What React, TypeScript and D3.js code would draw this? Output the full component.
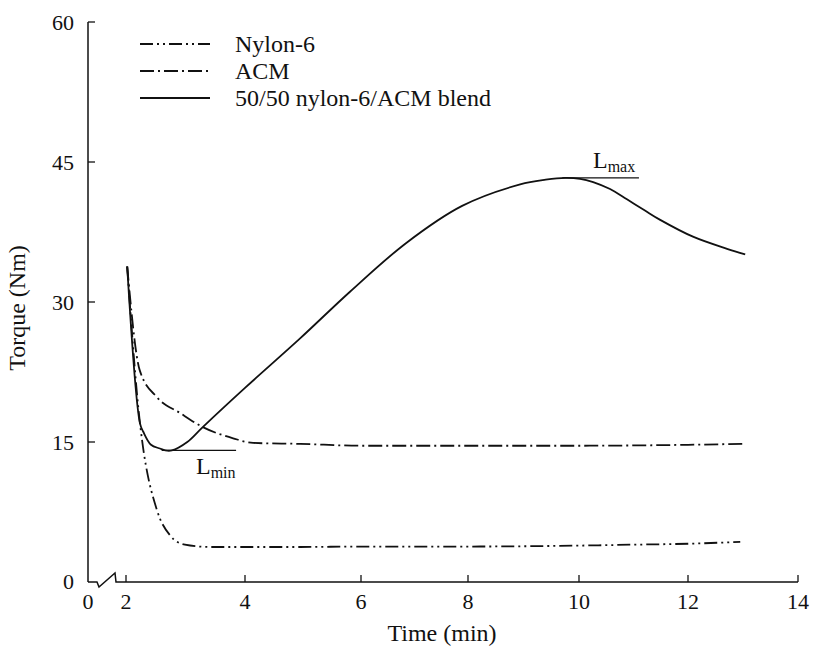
import React from "react";
import * as d3 from "d3";

// ---- data (time in min, torque in Nm) ----
const xTickValues = [2, 4, 6, 8, 10, 12, 14];
const xTickLabels = ["2", "4", "6", "8", "10", "12", "14"];
const yTickValues = [15, 30, 45, 60];
const yTickLabels = ["15", "30", "45", "60"];

const blendTime = [2.02, 2.235, 2.29, 2.42, 2.57, 2.66, 2.77, 3.03, 3.29, 4.0, 4.95, 5.81, 6.84, 7.89, 8.94, 9.4, 9.75, 10.02, 10.26, 10.57, 10.88, 11.21, 11.49, 12.09, 12.71, 13.04];
const blendTorque = [33.8, 17.0, 16.1, 14.7, 14.3, 14.1, 14.1, 15.0, 16.6, 20.8, 26.1, 31.1, 36.3, 40.3, 42.6, 43.1, 43.3, 43.2, 42.85, 42.1, 41.0, 39.8, 38.8, 37.0, 35.7, 35.1];

const acmTime = [2.02, 2.23, 2.52, 2.91, 3.29, 3.8, 4.14, 4.95, 6, 8, 10, 12, 13.02];
const acmTorque = [33.8, 22.7, 19.8, 18.1, 16.6, 15.4, 14.9, 14.8, 14.6, 14.6, 14.6, 14.7, 14.8];

const nylonTime = [2.02, 2.235, 2.27, 2.52, 2.74, 2.99, 3.41, 4.95, 6, 8, 10, 11, 12, 12.95];
const nylonTorque = [33.8, 17.0, 15.2, 7.7, 5.0, 4.0, 3.75, 3.75, 3.8, 3.8, 3.9, 4.0, 4.1, 4.3];

const seriesNames = ["Nylon-6", "ACM", "50/50 nylon-6/ACM blend"];
const lMin = { t0: 2.6, t1: 3.85, v: 14.1 };
const lMax = { t0: 9.7, t1: 11.1, v: 43.3 };

const FONT = "'Liberation Serif', 'Times New Roman', serif";

export default function App() {
  const W = 814, H = 655;
  const x = d3.scaleLinear()
    .domain([0, 2, 4, 6, 8, 10, 12, 14])
    .range([88, 126, 245, 361, 468, 579, 688, 798]);
  const y = d3.scaleLinear().domain([0, 60]).range([582, 22]);

  const lineMono = d3.line<[number, number]>()
    .x(d => x(d[0]))
    .y(d => y(d[1]))
    .curve(d3.curveMonotoneX);
  const lineSmooth = d3.line<[number, number]>()
    .x(d => x(d[0]))
    .y(d => y(d[1]))
    .curve(d3.curveCatmullRom.alpha(0.5));

  const zip = (a: number[], b: number[]) => a.map((v, i) => [v, b[i]] as [number, number]);

  const nylonDash = "13,4,2,4,2,4";
  const acmDash = "14,4,2,4";
  const styles = [
    { dash: nylonDash, data: zip(nylonTime, nylonTorque), gen: lineMono },
    { dash: acmDash, data: zip(acmTime, acmTorque), gen: lineMono },
    { dash: undefined as string | undefined, data: zip(blendTime, blendTorque), gen: lineSmooth },
  ];

  const x0 = x(0), yb = y(0);

  return (
    <svg width={W} height={H} style={{ position: "absolute", left: 0, top: 0, background: "#fff" }}
      fontFamily={FONT}>
      {/* y axis */}
      <line x1={x0} x2={x0} y1={yb} y2={y(60)} stroke="#111" strokeWidth={1.5} />
      {yTickValues.map((v, i) => (
        <g key={v}>
          <line x1={x0} x2={x0 + 7} y1={y(v)} y2={y(v)} stroke="#111" strokeWidth={1.3} />
          <text x={74} y={y(v)} dy="0.35em" textAnchor="end" fontSize={22} fill="#111">{yTickLabels[i]}</text>
        </g>
      ))}
      <text x={74} y={yb} dy="0.3em" textAnchor="end" fontSize={22} fill="#111">0</text>

      {/* x axis with break */}
      <path d={`M${x0},${yb} L97,${yb} L99,${yb + 5} L115,${yb - 9} L116,${yb} L${x(14)},${yb}`}
        fill="none" stroke="#111" strokeWidth={1.5} />
      {xTickValues.map((v, i) => (
        <g key={v}>
          <line x1={x(v)} x2={x(v)} y1={yb} y2={yb - 7} stroke="#111" strokeWidth={1.3} />
          <text x={x(v)} y={609} textAnchor="middle" fontSize={22} fill="#111">{xTickLabels[i]}</text>
        </g>
      ))}
      <text x={x0} y={609} textAnchor="middle" fontSize={22} fill="#111">0</text>

      {/* axis titles */}
      <text x={442} y={641} textAnchor="middle" fontSize={24} fill="#111">Time (min)</text>
      <text transform={`translate(25,${308}) rotate(-90)`} textAnchor="middle" fontSize={24} fill="#111">Torque (Nm)</text>

      {/* series */}
      {styles.map((s, i) => (
        <path key={i} d={s.gen(s.data) || ""} fill="none" stroke="#111" strokeWidth={1.8}
          strokeDasharray={s.dash} />
      ))}

      {/* L_min / L_max markers */}
      <line x1={x(lMin.t0)} x2={x(lMin.t1)} y1={y(lMin.v)} y2={y(lMin.v)} stroke="#111" strokeWidth={1.3} />
      <text x={196} y={474} fontSize={24} fill="#111">L<tspan fontSize={16} dy={4}>min</tspan></text>
      <line x1={x(lMax.t0)} x2={x(lMax.t1)} y1={y(lMax.v)} y2={y(lMax.v)} stroke="#111" strokeWidth={1.3} />
      <text x={593} y={168} fontSize={24} fill="#111">L<tspan fontSize={16} dy={4}>max</tspan></text>

      {/* legend */}
      {seriesNames.map((n, i) => {
        const ly = 44 + i * 27;
        return (
          <g key={n}>
            <line x1={140} x2={210} y1={ly} y2={ly} stroke="#111" strokeWidth={1.8}
              strokeDasharray={styles[i].dash} />
            <text x={235} y={ly} dy="0.35em" fontSize={24} fill="#111">{n}</text>
          </g>
        );
      })}
    </svg>
  );
}
